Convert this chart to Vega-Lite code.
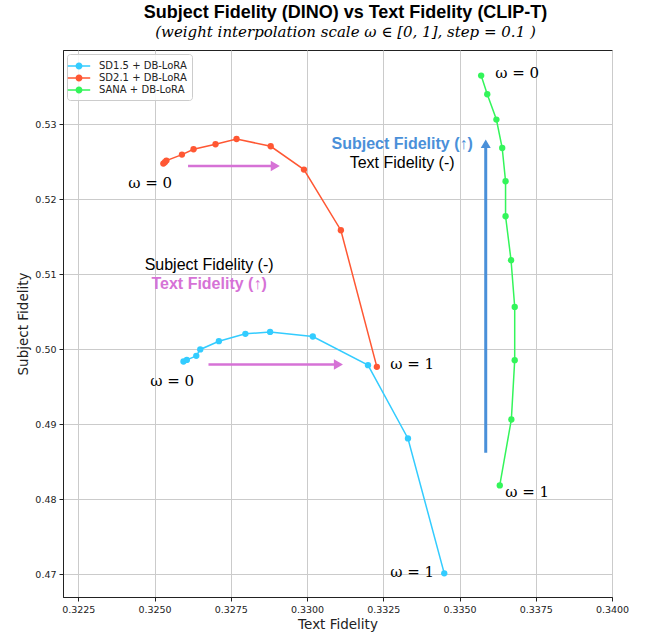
{
  "$schema": "https://vega.github.io/schema/vega-lite/v6.json",
  "width": 549,
  "height": 547,
  "autosize": {"type": "none"},
  "padding": {"left": 63, "top": 50, "right": 39, "bottom": 37},
  "background": "white",
  "title": {
    "text": "Subject Fidelity (DINO) vs Text Fidelity (CLIP-T)",
    "subtitle": "(weight interpolation scale ω ∈ [0, 1], step = 0.1 )",
    "font": "Liberation Sans",
    "fontSize": 18,
    "fontWeight": "bold",
    "color": "black",
    "subtitleFont": "DejaVu Serif",
    "subtitleFontStyle": "italic",
    "subtitleFontSize": 15,
    "subtitleColor": "black",
    "subtitlePadding": 3,
    "offset": 10,
    "anchor": "middle",
    "dx": 8
  },
  "config": {
    "view": {"stroke": "#222", "strokeWidth": 1},
    "axis": {
      "grid": true,
      "gridColor": "#cbcbcb",
      "gridWidth": 1,
      "domainColor": "#222",
      "tickColor": "#222",
      "tickSize": 4,
      "labelFont": "DejaVu Sans",
      "labelFontSize": 9.5,
      "labelColor": "#222",
      "labelPadding": 3,
      "labelFlush": false,
      "labelOverlap": false,
      "titleFont": "DejaVu Sans",
      "titleFontSize": 13.5,
      "titleFontWeight": "normal",
      "titleColor": "#222",
      "titlePadding": 4
    }
  },
  "resolve": {"scale": {"color": "shared"}, "legend": {"color": "independent"}},
  "datasets": {
    "curves": [
      {"model": "SD1.5 + DB-LoRA", "w": 0.0, "tf": 0.32595, "sf": 0.49839},
      {"model": "SD1.5 + DB-LoRA", "w": 0.1, "tf": 0.32606, "sf": 0.49860},
      {"model": "SD1.5 + DB-LoRA", "w": 0.2, "tf": 0.32637, "sf": 0.49914},
      {"model": "SD1.5 + DB-LoRA", "w": 0.3, "tf": 0.32650, "sf": 0.49999},
      {"model": "SD1.5 + DB-LoRA", "w": 0.4, "tf": 0.32711, "sf": 0.50109},
      {"model": "SD1.5 + DB-LoRA", "w": 0.5, "tf": 0.32798, "sf": 0.50207},
      {"model": "SD1.5 + DB-LoRA", "w": 0.6, "tf": 0.32879, "sf": 0.50233},
      {"model": "SD1.5 + DB-LoRA", "w": 0.7, "tf": 0.33019, "sf": 0.50172},
      {"model": "SD1.5 + DB-LoRA", "w": 0.8, "tf": 0.33200, "sf": 0.49790},
      {"model": "SD1.5 + DB-LoRA", "w": 0.9, "tf": 0.33331, "sf": 0.48813},
      {"model": "SD1.5 + DB-LoRA", "w": 1.0, "tf": 0.33450, "sf": 0.47015},
      {"model": "SD2.1 + DB-LoRA", "w": 0.0, "tf": 0.32529, "sf": 0.52476},
      {"model": "SD2.1 + DB-LoRA", "w": 0.1, "tf": 0.32534, "sf": 0.52494},
      {"model": "SD2.1 + DB-LoRA", "w": 0.2, "tf": 0.32539, "sf": 0.52516},
      {"model": "SD2.1 + DB-LoRA", "w": 0.3, "tf": 0.32590, "sf": 0.52596},
      {"model": "SD2.1 + DB-LoRA", "w": 0.4, "tf": 0.32628, "sf": 0.52667},
      {"model": "SD2.1 + DB-LoRA", "w": 0.5, "tf": 0.32700, "sf": 0.52734},
      {"model": "SD2.1 + DB-LoRA", "w": 0.6, "tf": 0.32769, "sf": 0.52804},
      {"model": "SD2.1 + DB-LoRA", "w": 0.7, "tf": 0.32881, "sf": 0.52707},
      {"model": "SD2.1 + DB-LoRA", "w": 0.8, "tf": 0.32990, "sf": 0.52396},
      {"model": "SD2.1 + DB-LoRA", "w": 0.9, "tf": 0.33111, "sf": 0.51588},
      {"model": "SD2.1 + DB-LoRA", "w": 1.0, "tf": 0.33229, "sf": 0.49767},
      {"model": "SANA + DB-LoRA", "w": 0.0, "tf": 0.33571, "sf": 0.53649},
      {"model": "SANA + DB-LoRA", "w": 0.1, "tf": 0.33591, "sf": 0.53400},
      {"model": "SANA + DB-LoRA", "w": 0.2, "tf": 0.33621, "sf": 0.53063},
      {"model": "SANA + DB-LoRA", "w": 0.3, "tf": 0.33640, "sf": 0.52684},
      {"model": "SANA + DB-LoRA", "w": 0.4, "tf": 0.33651, "sf": 0.52241},
      {"model": "SANA + DB-LoRA", "w": 0.5, "tf": 0.33651, "sf": 0.51774},
      {"model": "SANA + DB-LoRA", "w": 0.6, "tf": 0.33669, "sf": 0.51188},
      {"model": "SANA + DB-LoRA", "w": 0.7, "tf": 0.33681, "sf": 0.50566},
      {"model": "SANA + DB-LoRA", "w": 0.8, "tf": 0.33681, "sf": 0.49856},
      {"model": "SANA + DB-LoRA", "w": 0.9, "tf": 0.33670, "sf": 0.49066},
      {"model": "SANA + DB-LoRA", "w": 1.0, "tf": 0.33632, "sf": 0.48187}
    ],
    "omega": [
      {"label": "ω = 0", "tf": 0.32414, "sf": 0.52214},
      {"label": "ω = 0", "tf": 0.32486, "sf": 0.49581},
      {"label": "ω = 1", "tf": 0.33273, "sf": 0.49799},
      {"label": "ω = 1", "tf": 0.33273, "sf": 0.47036},
      {"label": "ω = 0", "tf": 0.33617, "sf": 0.53689},
      {"label": "ω = 1", "tf": 0.33650, "sf": 0.48098}
    ],
    "blackNotes": [
      {"label": "Text Fidelity (-)", "tf": 0.33312, "sf": 0.52484},
      {"label": "Subject Fidelity (-)", "tf": 0.32679, "sf": 0.51122}
    ],
    "blueNotes": [
      {"label": "Subject Fidelity (↑)", "tf": 0.33312, "sf": 0.52743}
    ],
    "pinkNotes": [
      {"label": "Text Fidelity (↑)", "tf": 0.32679, "sf": 0.50865}
    ],
    "pinkShafts": [
      {"tf": 0.32610, "tf2": 0.32886, "sf": 0.52444},
      {"tf": 0.32677, "tf2": 0.33095, "sf": 0.49799}
    ],
    "pinkHeads": [
      {"tf": 0.32896, "sf": 0.52444},
      {"tf": 0.33103, "sf": 0.49799}
    ],
    "blueShaft": [
      {"tf": 0.33586, "sf": 0.48621, "sf2": 0.52694}
    ],
    "blueHead": [
      {"tf": 0.33586, "sf": 0.52740}
    ]
  },
  "encoding": {
    "x": {
      "field": "tf",
      "type": "quantitative",
      "scale": {"domain": [0.322, 0.34], "nice": false, "zero": false},
      "axis": {"title": "Text Fidelity", "values": [0.3225, 0.325, 0.3275, 0.33, 0.3325, 0.335, 0.3375, 0.34], "format": ".4f"}
    },
    "y": {
      "field": "sf",
      "type": "quantitative",
      "scale": {"domain": [0.467, 0.5399], "nice": false, "zero": false},
      "axis": {"title": "Subject Fidelity", "values": [0.47, 0.48, 0.49, 0.5, 0.51, 0.52, 0.53], "format": ".2f"}
    }
  },
  "layer": [
    {
      "data": {"name": "curves"},
      "mark": {"type": "line", "strokeWidth": 1.5},
      "encoding": {
        "color": {
          "field": "model",
          "type": "nominal",
          "scale": {"domain": ["SD1.5 + DB-LoRA", "SD2.1 + DB-LoRA", "SANA + DB-LoRA"], "range": ["#33CCFF", "#FF5733", "#33F55A"]},
          "legend": null
        },
        "order": {"field": "w", "type": "quantitative"}
      }
    },
    {
      "data": {"name": "curves"},
      "mark": {"type": "circle", "size": 40, "opacity": 1},
      "encoding": {
        "color": {
          "field": "model",
          "type": "nominal",
          "scale": {"domain": ["SD1.5 + DB-LoRA", "SD2.1 + DB-LoRA", "SANA + DB-LoRA"], "range": ["#33CCFF", "#FF5733", "#33F55A"]},
          "legend": {
            "title": null,
            "orient": "none",
            "legendX": 4,
            "legendY": 4,
            "symbolType": "M-1.6,-0.1H-0.45V0.1H-1.6Z M0.45,-0.1H1.6V0.1H0.45Z M0.5,0A0.5,0.5 0 1,1 -0.5,0A0.5,0.5 0 1,1 0.5,0Z",
            "symbolSize": 196,
            "symbolStrokeWidth": 0,
            "symbolOpacity": 1,
            "labelFont": "DejaVu Sans",
            "labelFontSize": 10,
            "labelColor": "#222",
            "labelOffset": 13,
            "rowPadding": 0,
            "padding": 5,
            "fillColor": "rgba(255,255,255,0.85)",
            "strokeColor": "#cccccc",
            "cornerRadius": 3
          }
        }
      }
    },
    {
      "data": {"name": "pinkShafts"},
      "mark": {"type": "rule", "color": "#D672D6", "strokeWidth": 2.5},
      "encoding": {"x2": {"field": "tf2"}}
    },
    {
      "data": {"name": "pinkHeads"},
      "mark": {"type": "point", "shape": "triangle-right", "filled": true, "size": 110, "color": "#D672D6", "opacity": 1},
      "encoding": {}
    },
    {
      "data": {"name": "blueShaft"},
      "mark": {"type": "rule", "color": "#4A90D9", "strokeWidth": 3},
      "encoding": {"y2": {"field": "sf2"}}
    },
    {
      "data": {"name": "blueHead"},
      "mark": {"type": "point", "shape": "triangle-up", "filled": true, "size": 100, "color": "#4A90D9", "opacity": 1},
      "encoding": {}
    },
    {
      "data": {"name": "omega"},
      "mark": {"type": "text", "align": "left", "baseline": "middle", "font": "DejaVu Serif", "fontSize": 15, "color": "black"},
      "encoding": {"text": {"field": "label"}}
    },
    {
      "data": {"name": "blackNotes"},
      "mark": {"type": "text", "align": "center", "baseline": "middle", "font": "Liberation Sans", "fontSize": 16, "color": "black"},
      "encoding": {"text": {"field": "label"}}
    },
    {
      "data": {"name": "blueNotes"},
      "mark": {"type": "text", "align": "center", "baseline": "middle", "font": "Liberation Sans", "fontSize": 16, "fontWeight": "bold", "color": "#4A90D9"},
      "encoding": {"text": {"field": "label"}}
    },
    {
      "data": {"name": "pinkNotes"},
      "mark": {"type": "text", "align": "center", "baseline": "middle", "font": "Liberation Sans", "fontSize": 16, "fontWeight": "bold", "color": "#D672D6"},
      "encoding": {"text": {"field": "label"}}
    }
  ]
}
